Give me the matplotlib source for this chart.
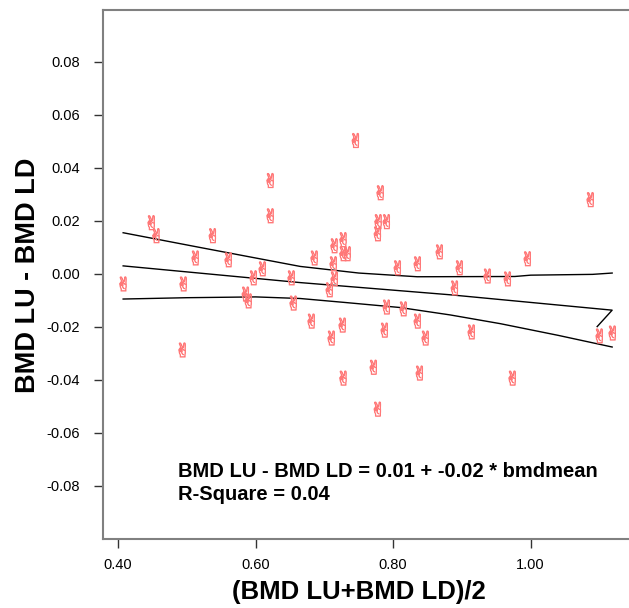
import matplotlib
matplotlib.use("Agg")
import matplotlib.pyplot as plt

# ---- data ----
bmd_mean = [0.407, 0.448, 0.455, 0.4945, 0.493, 0.512, 0.537, 0.560, 0.585, 0.589,
            0.6095, 0.5964, 0.621, 0.621, 0.6516, 0.6545, 0.745, 0.781, 0.778, 0.790,
            0.777, 0.727, 0.714, 0.727, 0.733, 0.685, 0.7127, 0.806, 0.835, 0.867,
            0.896, 0.7142, 0.707, 0.9367, 0.889, 0.790, 0.8145, 0.6807, 0.7258, 0.7098,
            0.787, 0.835, 0.8465, 0.9135, 0.771, 0.727, 0.838, 0.777, 1.0865, 0.995,
            0.966, 1.0996, 1.1185, 0.973]
bmd_diff = [-0.0038, 0.0193, 0.0144, -0.0038, -0.0287, 0.0060, 0.0144, 0.0053, -0.0076, -0.0102,
            0.0019, -0.0015, 0.0352, 0.0219, -0.0015, -0.0110, 0.0503, 0.0306, 0.0197, 0.0197,
            0.0151, 0.0129, 0.0106, 0.0076, 0.0076, 0.0060, 0.0038, 0.0023, 0.0038, 0.0083,
            0.0023, -0.0019, -0.0060, -0.0008, -0.0053, -0.0125, -0.0132, -0.0178, -0.0193, -0.0242,
            -0.0212, -0.0178, -0.0242, -0.0219, -0.0352, -0.0393, -0.0374, -0.0510, 0.0280, 0.0057,
            -0.0019, -0.0234, -0.0223, -0.0393]

fit_x = [0.4073, 0.6647, 0.8829, 1.1185, 1.0967]
fit_y = [0.0030, -0.0033, -0.0079, -0.0137, -0.0199]

upper_x = [0.4073, 0.520, 0.6647, 0.750, 0.835, 0.977, 1.000, 1.090, 1.1185]
upper_y = [0.0155, 0.0099, 0.0028, 0.0003, -0.0011, -0.0010, -0.0005, -0.0002, 0.0003]

lower_x = [0.4073, 0.500, 0.600, 0.6647, 0.730, 0.810, 0.883, 0.956, 1.040, 1.1185]
lower_y = [-0.0095, -0.0090, -0.0087, -0.0093, -0.0108, -0.0127, -0.0155, -0.0188, -0.0232, -0.0276]

x_ticks = [0.40, 0.60, 0.80, 1.00]
y_ticks = [-0.08, -0.06, -0.04, -0.02, 0.00, 0.02, 0.04, 0.06, 0.08]

eq_text = "BMD LU - BMD LD = 0.01 + -0.02 * bmdmean"
r2_text = "R-Square = 0.04"

plt.rcParams['font.family'] = ['Liberation Sans', 'DejaVu Sans']

fig = plt.figure(figsize=(6.29, 6.08), dpi=100)
ax = fig.add_axes([103/629, 1 - 539/608, 1 - 103/629, (539 - 10)/608])

ax.scatter(bmd_mean, bmd_diff, marker='$✌$', s=110, facecolors='none',
           edgecolors='#FF7878', linewidths=0.5, zorder=3)

for xs, ys in [(fit_x, fit_y), (upper_x, upper_y), (lower_x, lower_y)]:
    ax.plot(xs, ys, color='black', lw=1.0, zorder=2)

ax.set_xlim(0.378, 1.143)
ax.set_ylim(-0.1, 0.0995)
ax.set_xticks(x_ticks)
ax.set_xticklabels([f"{v:.2f}" for v in x_ticks])
ax.set_yticks(y_ticks)
ax.set_yticklabels([f"{v:.2f}" for v in y_ticks])

for side in ['left', 'bottom', 'top']:
    ax.spines[side].set_color('#808080')
    ax.spines[side].set_linewidth(1.5)
ax.spines['right'].set_visible(False)
ax.tick_params(axis='both', length=6.5, width=1.0, color='#333333', labelsize=10.5)
ax.tick_params(axis='x', pad=7)
ax.tick_params(axis='y', pad=10)

ax.set_xlabel("(BMD LU+BMD LD)/2", fontsize=18.5, fontweight='bold')
ax.xaxis.set_label_coords(0.4867, -0.100)
ax.xaxis.label.set_va('center')
ax.set_ylabel("BMD LU - BMD LD", fontsize=19.5, fontweight='bold')
ax.yaxis.set_label_coords(-0.1426, 0.499)
ax.yaxis.label.set_va('center')

ax.text(0.4873, -0.0767, eq_text, fontsize=14.5, fontweight='bold', ha='left', va='baseline')
ax.text(0.4873, -0.0854, r2_text, fontsize=14.5, fontweight='bold', ha='left', va='baseline')

fig.savefig("out.png", dpi=100)
